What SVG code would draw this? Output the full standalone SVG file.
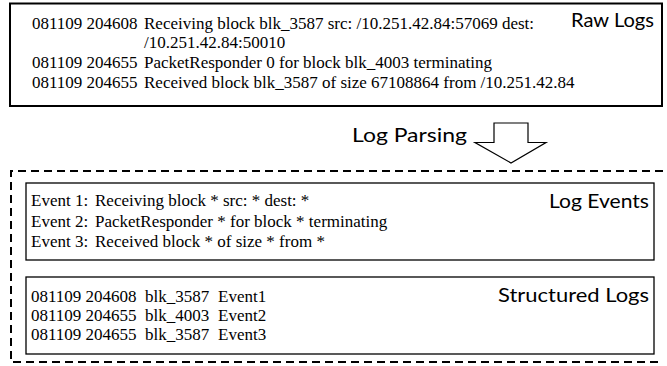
<svg xmlns="http://www.w3.org/2000/svg" width="667" height="366" viewBox="0 0 667 366">
<style>
.log{font-family:"Liberation Serif","Times New Roman",serif;font-size:17px;fill:#000}
.lbl{font-family:Lato,"Liberation Sans",sans-serif;font-size:20px;font-weight:400;fill:#000}
.solid{fill:#fff;stroke:#000}
</style>
<rect width="667" height="366" fill="#fff"/>
<g id="raw-logs">
<rect class="solid" x="10" y="3.5" width="652" height="102.5" stroke-width="2"/>
<text class="lbl" x="571" y="27" textLength="83" lengthAdjust="spacingAndGlyphs">Raw Logs</text>
<text class="log" x="32" y="29">081109 204608</text>
<text class="log" x="144" y="29">Receiving block blk_3587 src: /10.251.42.84:57069 dest:</text>
<text class="log" x="144" y="48">/10.251.42.84:50010</text>
<text class="log" x="32" y="68">081109 204655</text>
<text class="log" x="144" y="68">PacketResponder 0 for block blk_4003 terminating</text>
<text class="log" x="32" y="88">081109 204655</text>
<text class="log" x="144" y="88">Received block blk_3587 of size 67108864 from /10.251.42.84</text>
</g>
<g id="parsing">
<text class="lbl" x="352" y="142" font-size="22" textLength="115" lengthAdjust="spacingAndGlyphs">Log Parsing</text>
<path d="M494 123 H528 V142.5 H546 L511 163 L475 142.5 H494 Z" fill="#fff" stroke="#000" stroke-width="1.2"/>
</g>
<g id="connectors">
<path d="M663 171 H11 V362 H663" fill="none" stroke="#000" stroke-width="2" stroke-dasharray="8,5"/>
</g>
<g id="log-events">
<rect class="solid" x="26" y="183" width="628" height="77" stroke-width="1.3"/>
<text class="lbl" x="549" y="208" textLength="100" lengthAdjust="spacingAndGlyphs">Log Events</text>
<text class="log" x="31" y="206">Event 1:</text>
<text class="log" x="95" y="206">Receiving block * src: * dest: *</text>
<text class="log" x="31" y="227">Event 2:</text>
<text class="log" x="95" y="227">PacketResponder * for block * terminating</text>
<text class="log" x="31" y="247">Event 3:</text>
<text class="log" x="95" y="247">Received block * of size * from *</text>
</g>
<g id="structured-logs">
<rect class="solid" x="26" y="277" width="628" height="77" stroke-width="1.3"/>
<text class="lbl" x="498" y="302" textLength="151" lengthAdjust="spacingAndGlyphs">Structured Logs</text>
<text class="log" x="31" y="302">081109 204608</text>
<text class="log" x="145" y="302">blk_3587</text>
<text class="log" x="218" y="302">Event1</text>
<text class="log" x="31" y="321">081109 204655</text>
<text class="log" x="145" y="321">blk_4003</text>
<text class="log" x="218" y="321">Event2</text>
<text class="log" x="31" y="340">081109 204655</text>
<text class="log" x="145" y="340">blk_3587</text>
<text class="log" x="218" y="340">Event3</text>
</g>
</svg>
